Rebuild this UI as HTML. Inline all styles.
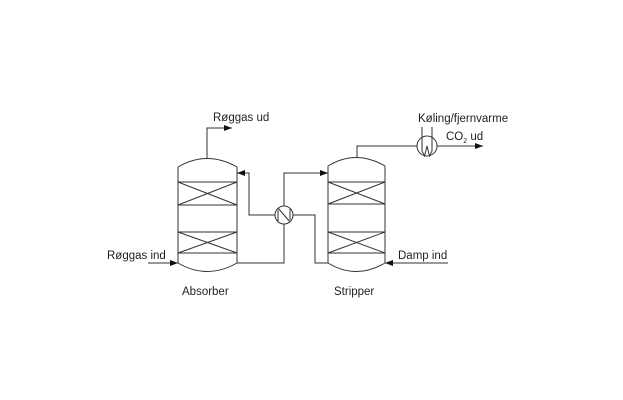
<!DOCTYPE html>
<html><head><style>body{margin:0;background:#fff}svg{display:block}</style></head><body>
<svg width="623" height="400" viewBox="0 0 623 400" xmlns="http://www.w3.org/2000/svg" font-family="Liberation Sans, DejaVu Sans, sans-serif" font-size="11.5" fill="#222">
<defs><marker id="a" markerWidth="8" markerHeight="6" refX="8" refY="3" orient="auto" markerUnits="userSpaceOnUse"><path d="M0,0L8,3L0,6z" fill="#111"/></marker></defs>
<g fill="none" stroke="#333" stroke-width="1">
<path d="M178,167 Q207,150 237,167 L237,263 Q207,280 178,263 Z"/>
<path d="M178,182H237M178,205H237M178,182L237,205M237,182L178,205"/>
<path d="M178,232H237M178,253H237M178,232L237,253M237,232L178,253"/>
<path d="M328,166 Q356,149 385,166 L385,263 Q356,280 328,263 Z"/>
<path d="M328,182H385M328,204H385M328,182L385,204M385,182L328,204"/>
<path d="M328,232H385M328,253H385M328,232L385,253M385,232L328,253"/>
<path d="M207,159V128H232" marker-end="url(#a)"/>
<path d="M148,263H178" marker-end="url(#a)"/>
<path d="M275,215H249V173H237" marker-end="url(#a)"/>
<path d="M284,206V173H328" marker-end="url(#a)"/>
<path d="M284,224V263H237"/>
<path d="M293,215H315V263H328"/>
<path d="M448,263H385" marker-end="url(#a)"/>
<path d="M357,158V146H417"/>
<path d="M437,146H483" marker-end="url(#a)"/>
<circle cx="284" cy="215" r="9"/>
<path d="M278,208L290,222"/>
<path d="M278,210V221M290,209V220"/>
<circle cx="427" cy="146" r="10"/>
<path d="M422,127V151L424.5,156L427,146L429.5,156L432,151V127"/>
</g>
<text x="213" y="121">Røggas ud</text>
<text x="107" y="259">Røggas ind</text>
<text x="182" y="295">Absorber</text>
<text x="334" y="295">Stripper</text>
<text x="398" y="259">Damp ind</text>
<text x="418" y="122">Køling/fjernvarme</text>
<text x="446" y="140">CO<tspan font-size="7" dy="3">2</tspan><tspan dy="-3"> ud</tspan></text>
</svg>
</body></html>
